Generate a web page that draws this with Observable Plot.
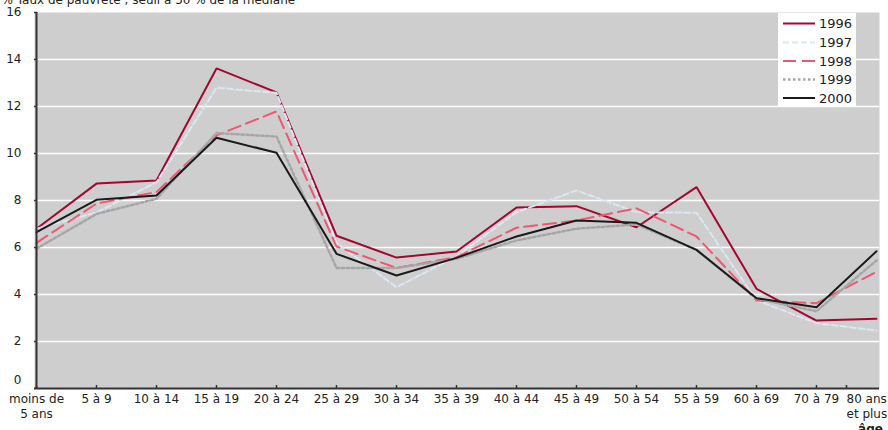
<!DOCTYPE html>
<html>
<head>
<meta charset="utf-8">
<script src="https://cdn.jsdelivr.net/npm/d3@7"></script>
<script src="https://cdn.jsdelivr.net/npm/@observablehq/plot@0.6"></script>
<style>
  html, body { margin: 0; padding: 0; background: white; }
  #wrap { position: relative; width: 888px; height: 430px; overflow: hidden; }
  #legend { position: absolute; left: 778px; top: 13px; width: 78px; height: 93px; background: white; }
</style>
</head>
<body>
<div id="wrap"><div id="chart"></div><div id="legend"></div></div>
<script>
const ages = ["moins de\n5 ans", "5 à 9", "10 à 14", "15 à 19", "20 à 24", "25 à 29", "30 à 34", "35 à 39", "40 à 44", "45 à 49", "50 à 54", "55 à 59", "60 à 69", "70 à 79", "80 ans\net plus"];
const years = ["1996", "1997", "1998", "1999", "2000"];
const v1996 = [6.8, 8.72, 8.85, 13.62, 12.6, 6.5, 5.57, 5.83, 7.7, 7.76, 6.86, 8.57, 4.24, 2.89, 2.97];
const v1997 = [6.8, 7.49, 8.78, 12.8, 12.58, 6.2, 4.31, 5.62, 7.5, 8.43, 7.5, 7.48, 3.75, 2.78, 2.47];
const v1998 = [6.2, 7.87, 8.36, 10.77, 11.79, 6.04, 5.13, 5.59, 6.84, 7.15, 7.67, 6.47, 3.74, 3.63, 4.97];
const v1999 = [5.95, 7.43, 8.07, 10.87, 10.72, 5.13, 5.13, 5.52, 6.3, 6.8, 6.98, 5.9, 3.82, 3.29, 5.45];
const v2000 = [6.65, 8.03, 8.21, 10.67, 10.03, 5.73, 4.81, 5.56, 6.47, 7.15, 7.05, 5.9, 3.84, 3.46, 5.84];
const yTicks = [0, 2, 4, 6, 8, 10, 12, 14, 16];
const titleText = "% Taux de pauvreté ; seuil à 50 % de la médiane";
const xLabel = "âge";

const seriesValues = [v1996, v1997, v1998, v1999, v2000];
const styles = [
  {stroke: "#a3062f", strokeWidth: 2, dash: null},
  {stroke: "#dce6f2", strokeWidth: 2, dash: "6,3"},
  {stroke: "#ef5670", strokeWidth: 2, dash: "13,6"},
  {stroke: "#a6a6a6", strokeWidth: 2.5, dash: "2.5,2.5"},
  {stroke: "#1a1a1a", strokeWidth: 2, dash: null}
];

const lineMarks = seriesValues.map((vals, k) =>
  Plot.line(ages, {
    x: d => d,
    y: (d, i) => vals[i],
    stroke: styles[k].stroke,
    strokeWidth: styles[k].strokeWidth,
    strokeDasharray: styles[k].dash,
    strokeLinejoin: "miter",
    curve: "linear"
  })
);

const lastAge = ages[ages.length - 1];
const chart = Plot.plot({
  width: 888,
  height: 430,
  marginLeft: 34,
  marginRight: 9,
  marginTop: 12,
  marginBottom: 42,
  style: {fontFamily: "'DejaVu Sans', Verdana, sans-serif", fontSize: "12px", background: "white", color: "#222"},
  x: {type: "point", domain: ages, range: [34, 877], padding: 0, label: null},
  y: {domain: [0, 16], label: null},
  marks: [
    Plot.frame({fill: "#cecece", stroke: null}),
    Plot.gridY(yTicks.filter(v => v > 0 && v < 16), {stroke: "white", strokeOpacity: 1, strokeWidth: 1.5}),
    ...lineMarks,
    Plot.ruleY([0], {stroke: "#333", strokeWidth: 2}),
    Plot.ruleX([ages[0]], {stroke: "#333", strokeWidth: 2}),
    Plot.axisY(yTicks.filter(v => v > 0), {tickSize: -3, tickPadding: 16, stroke: "#333", strokeWidth: 1.5, fill: "#222", fontSize: 12, label: null}),
    Plot.axisY(yTicks.filter(v => v === 0), {tickSize: 0, tickPadding: 13, dy: -8, fill: "#222", fontSize: 12, label: null}),
    Plot.axisX(ages.filter(a => a !== lastAge), {tickSize: -3, tickPadding: 8, stroke: "#333", strokeWidth: 1.5, fill: "#222", fontSize: 12, lineHeight: 1.17, label: null}),
    Plot.axisX([lastAge], {tickSize: -3, tickPadding: 8, stroke: "#333", strokeWidth: 1.5, fill: "#222", fontSize: 12, lineHeight: 1.17, textAnchor: "start", dx: -30, label: null}),
    Plot.text([titleText], {frameAnchor: "top-left", textAnchor: "start", lineAnchor: "bottom", dx: -33, dy: -9, fontSize: 12, fill: "#222"}),
    Plot.text([xLabel], {frameAnchor: "bottom-right", textAnchor: "middle", lineAnchor: "top", dx: -9, dy: 36, fontSize: 12, fontWeight: "bold", fill: "#222"})
  ]
});
document.getElementById("chart").appendChild(chart);

// legend
const leg = d3.select("#legend").append("svg").attr("width", 78).attr("height", 93)
  .style("font-family", "'DejaVu Sans', Verdana, sans-serif").style("font-size", "13px");
const rowY = [10.5, 29.5, 48, 66.5, 85];
years.forEach((y, k) => {
  leg.append("line").attr("x1", 5).attr("x2", 37).attr("y1", rowY[k]).attr("y2", rowY[k])
    .attr("stroke", styles[k].stroke).attr("stroke-width", styles[k].strokeWidth)
    .attr("stroke-dasharray", styles[k].dash);
  leg.append("text").attr("x", 41).attr("y", rowY[k]).attr("dy", "0.35em").attr("fill", "#222").text(y);
});
</script>
</body>
</html>
